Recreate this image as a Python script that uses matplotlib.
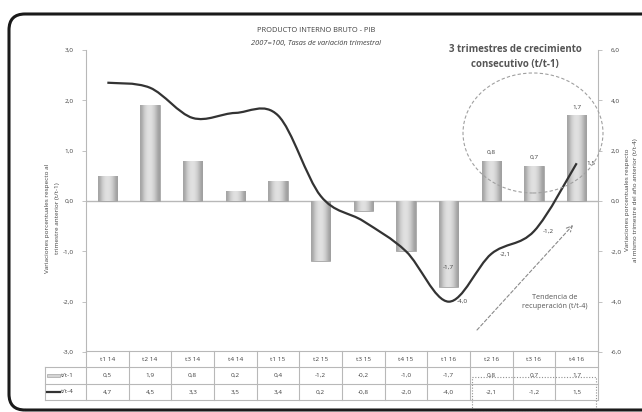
import numpy as np
import matplotlib
matplotlib.use("Agg")
import matplotlib.pyplot as plt
from matplotlib.path import Path
from matplotlib.patches import PathPatch, FancyBboxPatch, Ellipse, Rectangle

plt.rcParams["font.family"] = ["Open Sans", "DejaVu Sans"]

# data
quarters = ["t1 14", "t2 14", "t3 14", "t4 14", "t1 15", "t2 15",
            "t3 15", "t4 15", "t1 16", "t2 16", "t3 16", "t4 16"]
tt1 = [0.5, 1.9, 0.8, 0.2, 0.4, -1.2, -0.2, -1.0, -1.7, 0.8, 0.7, 1.7]
tt4 = [4.7, 4.5, 3.3, 3.5, 3.4, 0.2, -0.8, -2.0, -4.0, -2.1, -1.2, 1.5]
left_ticks = [-3, -2, -1, 0, 1, 2, 3]
right_ticks = [-6, -4, -2, 0, 2, 4, 6]
bar_labelled = [8, 9, 10, 11]
line_labelled = [8, 9, 10, 11]

W, H = 642, 412
TXT = "#404040"
GRID = "#b8b8b8"
FS = 4.6


def fmt(v):
    return f"{v:.1f}".replace(".", ",")


def fx(x):
    return x / W


def fy(y):
    return 1 - y / H


fig = plt.figure(figsize=(W / 100, H / 100), dpi=100)
fig.patch.set_facecolor("white")

# outer rounded frame (pixel units)
frame = FancyBboxPatch((9 / 100, 2 / 100), 700 / 100, 396 / 100,
                       boxstyle="round,pad=0,rounding_size=0.16",
                       transform=fig.dpi_scale_trans, fill=False,
                       edgecolor="#1a1a1a", linewidth=2.2)
fig.patches.append(frame)

ax = fig.add_axes([fx(86), fy(352), 512 / W, 302 / H])
ax.set_xlim(-0.5, 11.5)
ax.set_ylim(-3, 3)
ax2 = ax.twinx()
ax2.set_ylim(-6, 6)

for s in ["top", "bottom", "right"]:
    ax.spines[s].set_visible(False)
for s in ["top", "bottom", "left"]:
    ax2.spines[s].set_visible(False)
ax.spines["left"].set_color(GRID)
ax2.spines["right"].set_color(GRID)
ax.set_xticks([])
ax.set_yticks(left_ticks)
ax.set_yticklabels([fmt(v) for v in left_ticks])
ax2.set_yticks(right_ticks)
ax2.set_yticklabels([fmt(v) for v in right_ticks])
for a in (ax, ax2):
    a.tick_params(axis="y", labelsize=FS, colors=TXT, length=3, width=0.6,
                  color=GRID, pad=6)
ax.axhline(0, color=GRID, linewidth=1, zorder=1)

# bars with soft horizontal gradient
x = np.arange(len(quarters))
bw = 0.46
bars = ax.bar(x, tt1, width=bw, color="#cfcfcf", edgecolor="#a5a5a5",
              linewidth=0.6, zorder=2)
grad = np.array([[0.64, 0.8, 0.87, 0.89, 0.85, 0.76, 0.62]])
for b in bars:
    x0, y0 = b.get_x(), b.get_y()
    im = ax.imshow(grad, cmap="gray", vmin=0, vmax=1, aspect="auto",
                   extent=(x0, x0 + b.get_width(), y0, y0 + b.get_height()),
                   zorder=2.5, interpolation="bicubic")
    im.set_clip_path(b)
ax.set_xlim(-0.5, 11.5)
ax.set_ylim(-3, 3)

for i in bar_labelled:
    v = tt1[i]
    dy = 14 if v < 0 else 6
    ax.annotate(fmt(v), (x[i], v), xytext=(0, dy), textcoords="offset points",
                ha="center", va="center", fontsize=FS, color=TXT, zorder=5)

# smoothed t/t-4 line (Bezier through the points)
pts = np.column_stack([x, tt4]).astype(float)
verts = [pts[0]]
codes = [Path.MOVETO]
n = len(pts)
for i in range(n - 1):
    p0 = pts[i - 1] if i > 0 else pts[i]
    p1 = pts[i]
    p2 = pts[i + 1]
    p3 = pts[i + 2] if i + 2 < n else pts[i + 1]
    verts += [p1 + (p2 - p0) / 6, p2 - (p3 - p1) / 6, p2]
    codes += [Path.CURVE4] * 3
ax2.add_patch(PathPatch(Path(verts, codes), fill=False, edgecolor="#333333",
                        linewidth=1.6, zorder=4))
for i in line_labelled:
    ax2.annotate(fmt(tt4[i]), (x[i], tt4[i]), xytext=(10, 0),
                 textcoords="offset points", ha="center", va="center",
                 fontsize=FS, color=TXT, zorder=5)

# titles
fig.text(fx(316), fy(31), "PRODUCTO INTERNO BRUTO - PIB", ha="center",
         va="center", fontsize=5.3, color=TXT)
fig.text(fx(316), fy(43), "2007=100, Tasas de variación trimestral",
         ha="center", va="center", fontsize=5.3, color=TXT, style="italic")
fig.text(fx(515), fy(49), "3 trimestres de crecimiento", ha="center",
         va="center", fontsize=7, color="#555555", weight="bold")
fig.text(fx(515), fy(65), "consecutivo (t/t-1)", ha="center",
         va="center", fontsize=7, color="#555555", weight="bold")

fig.text(fx(48), fy(218), "Variaciones porcentuales respecto al",
         rotation=90, ha="center", va="center", fontsize=FS, color=TXT)
fig.text(fx(58), fy(218), "trimestre anterior (t/t-1)",
         rotation=90, ha="center", va="center", fontsize=FS, color=TXT)
fig.text(fx(627), fy(200), "Variaciones porcentuales respecto",
         rotation=90, ha="center", va="center", fontsize=FS, color=TXT)
fig.text(fx(636), fy(200), "al mismo trimestre del año anterior (t/t-4)",
         rotation=90, ha="center", va="center", fontsize=FS, color=TXT)

fig.text(fx(555), fy(302), "Tendencia de\nrecuperación (t/t-4)", ha="center",
         va="center", fontsize=5.2, color="#555555", linespacing=1.5,
         multialignment="center")

# dashed circle and recovery arrow
circ = Ellipse((533 / 100, (H - 133) / 100), 140 / 100, 120 / 100,
               transform=fig.dpi_scale_trans, fill=False, edgecolor="#a0a0a0",
               linestyle=(0, (3, 2)), linewidth=0.8)
fig.patches.append(circ)
ax.annotate("", xy=(573, H - 225), xytext=(477, H - 330),
            xycoords="figure pixels", textcoords="figure pixels",
            arrowprops=dict(arrowstyle="->", color="#8a8a8a", lw=0.8,
                            linestyle=(0, (3, 2)), shrinkA=0, shrinkB=0))

# data table
tax = fig.add_axes([fx(45), fy(400), (598 - 45) / W, 49 / H])
L = -0.5 - 41 / 42.67
tax.set_xlim(L, 11.5)
tax.set_ylim(3, 0)
tax.axis("off")
for yy, x0 in [(0, -0.5), (1, L), (2, L), (3, L)]:
    tax.plot([x0, 11.5], [yy, yy], color=GRID, lw=0.8, clip_on=False)
for k in range(13):
    tax.plot([-0.5 + k, -0.5 + k], [0, 3], color=GRID, lw=0.8, clip_on=False)
tax.plot([L, L], [1, 3], color=GRID, lw=0.8, clip_on=False)

for i, q in enumerate(quarters):
    tax.text(i, 0.55, q, ha="center", va="center", fontsize=FS, color=TXT)
    tax.text(i, 1.5, fmt(tt1[i]), ha="center", va="center", fontsize=FS,
             color=TXT)
    tax.text(i, 2.5, fmt(tt4[i]), ha="center", va="center", fontsize=FS,
             color=TXT)

tax.add_patch(Rectangle((L + 0.04, 1.38), 0.3, 0.24, facecolor="#d4d4d4",
                        edgecolor="#a5a5a5", lw=0.5))
tax.plot([L + 0.04, L + 0.34], [2.5, 2.5], color="#333333", lw=1.6)
tax.text(L + 0.37, 1.5, "t/t-1", ha="left", va="center", fontsize=FS,
         color=TXT)
tax.text(L + 0.37, 2.5, "t/t-4", ha="left", va="center", fontsize=FS,
         color=TXT)

tax.add_patch(Rectangle((8.55, 1.6), 2.9, 2.0, fill=False, edgecolor="#909090",
                        linestyle=(0, (1, 1.5)), lw=0.8, clip_on=False))

fig.savefig("out.png", dpi=100, facecolor="white")
